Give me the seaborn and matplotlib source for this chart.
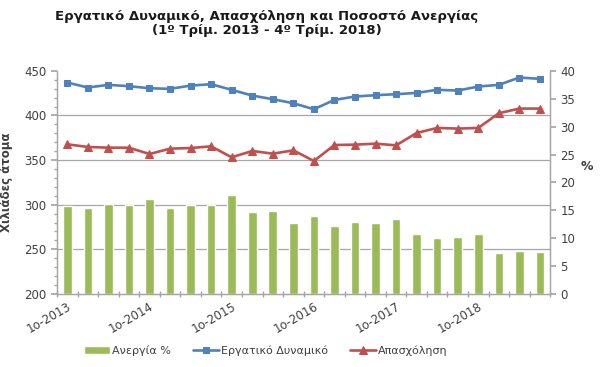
import numpy as np
import pandas as pd
import seaborn as sns
import matplotlib.pyplot as plt
from matplotlib.ticker import MultipleLocator, FixedLocator

##### δεδομένα (τρίμηνα 2013-2018)
quarters = [f"{q}ο-{y}" for y in range(2013, 2019) for q in range(1, 5)]
anergia = [15.7, 15.4, 16.2, 16.0, 17.0, 15.5, 16.0, 16.0, 17.7, 14.7, 14.8, 12.7,
           13.9, 12.1, 12.9, 12.8, 13.5, 10.7, 10.1, 10.2, 10.7, 7.4, 7.7, 7.6]
ergatiko = [436.9, 431.3, 434.3, 432.8, 430.5, 429.8, 433.5, 435.0, 428.7, 422.3, 418.2, 413.7,
            407.0, 417.4, 421.2, 422.7, 423.8, 425.3, 428.7, 427.9, 432.4, 434.3, 442.5, 441.0]
apasxolisi = [367.7, 364.7, 363.9, 363.9, 356.8, 362.8, 363.5, 365.4, 353.1, 360.2, 357.2, 360.9,
              349.0, 366.9, 367.3, 368.4, 366.5, 380.4, 386.0, 385.3, 386.0, 402.5, 407.7, 407.7]

df = pd.DataFrame({"q": quarters, "x": np.arange(len(quarters)),
                   "anergia": anergia, "ergatiko": ergatiko, "apasxolisi": apasxolisi})

sns.set_theme(style="white")
plt.rcParams['font.family'] = ['DejaVu Sans']

green = "#9BBB59"
blue = "#4F81BD"
red = "#C0504D"
grey = "#A6A6A6"
txt = "#404040"

fig = plt.figure(figsize=(6, 3.67), dpi=100)
ax = fig.add_axes([0.095, 0.199, 0.822, 0.608])
ax2 = ax.twinx()

# μπάρες ανεργίας στον δεξιό άξονα
sns.barplot(data=df, x="x", y="anergia", ax=ax2, color=green, width=0.42,
            saturation=1, native_scale=True, label="Ανεργία %")
ax2.set_ylim(0, 40)
ax2.yaxis.set_major_locator(MultipleLocator(5))
ax2.yaxis.set_minor_locator(FixedLocator([8, 16, 24, 32, 40]))
ax2.grid(which="minor", axis="y", color=grey, lw=0.9)
ax2.tick_params(axis="y", which="major", direction="out", length=4, color=grey,
                labelsize=8.5, labelcolor=txt, right=True)
ax2.tick_params(axis="y", which="minor", length=0)
ax2.set_ylabel("%", rotation=0, fontsize=9, fontweight="bold", color=txt, labelpad=6)
ax2.yaxis.set_label_coords(1.075, 0.6)

# γραμμές στον αριστερό άξονα
ax.set_zorder(ax2.get_zorder() + 1)
ax.patch.set_visible(False)
sns.lineplot(data=df, x="x", y="ergatiko", ax=ax, color=blue, lw=1.9, marker="s",
             markersize=5, markeredgecolor=blue, label="Εργατικό Δυναμικό")
sns.lineplot(data=df, x="x", y="apasxolisi", ax=ax, color=red, lw=1.9, marker="^",
             markersize=5.5, markeredgecolor=red, label="Απασχόληση")
ax.set_ylim(200, 450)
ax.set_xlim(-0.5, len(quarters) - 0.5)
ax.yaxis.set_major_locator(MultipleLocator(50))
ax.yaxis.set_minor_locator(MultipleLocator(10))
ax.tick_params(axis="y", which="major", direction="out", length=4, color=grey,
               labelsize=8.5, labelcolor=txt, left=True)
ax.tick_params(axis="y", which="minor", direction="out", length=2, color=grey, left=True)
ax.set_ylabel("Χιλιάδες άτομα", fontsize=8.5, fontweight="bold", color=txt, labelpad=8)
ax.set_xlabel("")

ax.set_xticks(df["x"][::4])
ax.set_xticklabels(df["q"][::4], rotation=30, ha="right", rotation_mode="anchor",
                   fontsize=8.5, color=txt)
ax.xaxis.set_minor_locator(FixedLocator(np.arange(-0.5, len(quarters), 1)))
ax.tick_params(axis="x", which="major", length=0, pad=4)
ax.tick_params(axis="x", which="minor", direction="inout", length=4, color=grey, bottom=True)
ax2.set_xlabel("")

for a in (ax, ax2):
    for s in a.spines.values():
        s.set_color(grey)
        s.set_linewidth(0.9)
    a.spines["top"].set_visible(False)

# υπόμνημα
h2, l2 = ax2.get_legend_handles_labels()
h1, l1 = ax.get_legend_handles_labels()
ax.get_legend().remove()
leg = fig.legend(h2 + h1, l2 + l1, loc="center", bbox_to_anchor=(0.443, 0.045), ncol=3,
                 frameon=False, fontsize=8, handlelength=2.3, columnspacing=2.0,
                 handletextpad=0.2, labelcolor=txt)
if ax2.get_legend():
    ax2.get_legend().remove()

fig.text(0.445, 0.955, "Εργατικό Δυναμικό, Απασχόληση και Ποσοστό Ανεργίας",
         ha="center", va="center", fontsize=9.5, fontweight="bold", color="#1a1a1a")
fig.text(0.445, 0.917, "(1º Τρίμ. 2013 - 4º Τρίμ. 2018)",
         ha="center", va="center", fontsize=9.5, fontweight="bold", color="#1a1a1a")

fig.savefig("out.png", dpi=100)
